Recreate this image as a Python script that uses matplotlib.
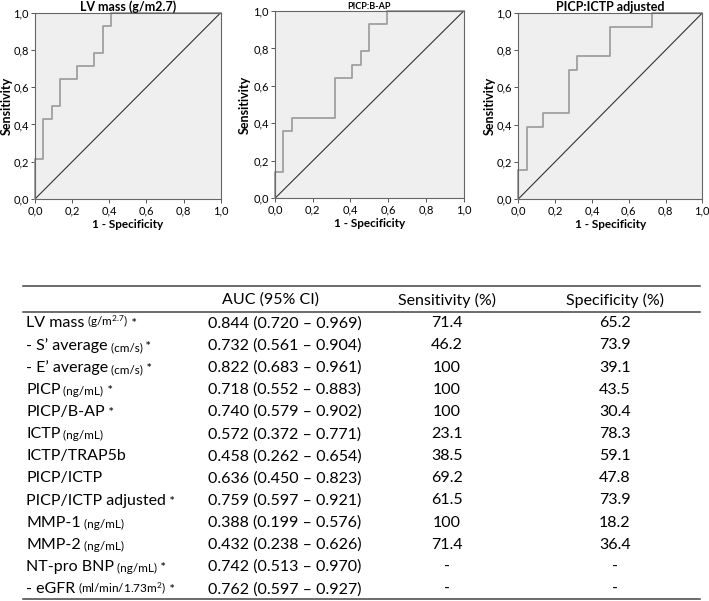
import matplotlib
matplotlib.use("Agg")
import matplotlib.pyplot as plt
from matplotlib.ticker import FuncFormatter

# ---------------------------------------------------------
# ROC curves (fpr / tpr step points)
# ---------------------------------------------------------
roc_titles = ["LV mass (g/m2.7)", "PICP:B-AP", "PICP:ICTP adjusted"]

lv_fpr = [0, 0, 0.045, 0.091, 0.136, 0.227, 0.318, 0.364, 0.409, 1.0]
lv_tpr = [0, 0.214, 0.429, 0.500, 0.643, 0.714, 0.786, 0.929, 1.0, 1.0]

bap_fpr = [0, 0, 0.045, 0.091, 0.318, 0.409, 0.455, 0.500, 0.591, 1.0]
bap_tpr = [0, 0.143, 0.357, 0.429, 0.643, 0.714, 0.786, 0.929, 1.0, 1.0]

ictp_fpr = [0, 0, 0.045, 0.136, 0.273, 0.318, 0.500, 0.727, 1.0]
ictp_tpr = [0, 0.154, 0.385, 0.462, 0.692, 0.769, 0.923, 1.0, 1.0]

roc_fpr = [lv_fpr, bap_fpr, ictp_fpr]
roc_tpr = [lv_tpr, bap_tpr, ictp_tpr]

# ---------------------------------------------------------
# Table
# ---------------------------------------------------------
col_headers = ["AUC (95% CI)", "Sensitivity (%)", "Specificity (%)"]
row_names = ["LV mass", "- S\u2019 average", "- E\u2019 average", "PICP", "PICP/B-AP",
             "ICTP", "ICTP/TRAP5b", "PICP/ICTP", "PICP/ICTP adjusted", "MMP-1",
             "MMP-2", "NT-pro BNP", "- eGFR"]
row_units = ["(g/m$^{2.7}$)", "(cm/s)", "(cm/s)", "(ng/mL)", "", "(ng/mL)", "", "",
             "", "(ng/mL)", "(ng/mL)", "(ng/mL)", "(ml/min/1.73m$^{2}$)"]
row_star = [True, True, True, True, True, False, False, False, True, False, False,
            True, True]
auc_ci = ["0.844 (0.720 \u2013 0.969)", "0.732 (0.561 \u2013 0.904)",
          "0.822 (0.683 \u2013 0.961)", "0.718 (0.552 \u2013 0.883)",
          "0.740 (0.579 \u2013 0.902)", "0.572 (0.372 \u2013 0.771)",
          "0.458 (0.262 \u2013 0.654)", "0.636 (0.450 \u2013 0.823)",
          "0.759 (0.597 \u2013 0.921)", "0.388 (0.199 \u2013 0.576)",
          "0.432 (0.238 \u2013 0.626)", "0.742 (0.513 \u2013 0.970)",
          "0.762 (0.597 \u2013 0.927)"]
sens = ["71.4", "46.2", "100", "100", "100", "23.1", "38.5", "69.2", "61.5",
        "100", "71.4", "-", "-"]
spec = ["65.2", "73.9", "39.1", "43.5", "30.4", "78.3", "59.1", "47.8", "73.9",
        "18.2", "36.4", "-", "-"]

plt.rcParams["font.family"] = ["Lato", "DejaVu Sans"]
plt.rcParams["mathtext.fontset"] = "custom"
plt.rcParams["mathtext.rm"] = "Lato"
plt.rcParams["mathtext.it"] = "Lato:italic"
plt.rcParams["mathtext.bf"] = "Lato:bold"

W, H = 709, 601
fig = plt.figure(figsize=(W / 100, H / 100), dpi=100)

# axes boxes in pixels: left, top, right, bottom
boxes = [(35, 12.7, 220.7, 199), (275, 11, 463.7, 198.3), (518.3, 13, 702.3, 199)]
title_sizes = [9, 6.5, 9]
ylabel_x = [-0.12, -0.13, -0.125]

comma = FuncFormatter(lambda v, p: f"{v:.1f}".replace(".", ","))

for i, (l, t, r, b) in enumerate(boxes):
    ax = fig.add_axes([l / W, (H - b) / H, (r - l) / W, (b - t) / H])
    ax.set_facecolor("#efefef")
    ax.plot([0, 1], [0, 1], color="#333333", lw=0.8)
    ax.step(roc_fpr[i], roc_tpr[i], where="post", color="#a0a0a0", lw=1.3,
            clip_on=False)
    ax.set_xlim(0, 1)
    ax.set_ylim(0, 1)
    ax.set_xticks([0, 0.2, 0.4, 0.6, 0.8, 1.0])
    ax.set_yticks([0, 0.2, 0.4, 0.6, 0.8, 1.0])
    ax.xaxis.set_major_formatter(comma)
    ax.yaxis.set_major_formatter(comma)
    ax.tick_params(labelsize=8, length=3, width=0.7, pad=1.5, color="#555555")
    for s in ax.spines.values():
        s.set_color("#666666")
        s.set_linewidth(0.8)
    ax.set_title(roc_titles[i], fontsize=title_sizes[i], fontweight="bold", pad=1)
    ax.set_xlabel("1 - Specificity", fontsize=8.5, fontweight="bold", labelpad=2)
    ax.set_ylabel("Sensitivity", fontsize=9, fontweight="bold")
    ax.yaxis.set_label_coords(ylabel_x[i], 0.5)

# ---------------------------------------------------------
# table drawn in pixel coordinates
# ---------------------------------------------------------
tab = fig.add_axes([0, 0, 1, 1])
tab.set_xlim(0, W)
tab.set_ylim(H, 0)
tab.axis("off")

for y in [286, 311.7, 599.3]:
    tab.plot([23, 700], [y, y], color="#444444", lw=1.1)

fs = 11.5
tab.text(271, 300, col_headers[0], fontsize=fs, ha="center", va="center")
tab.text(447, 300, col_headers[1], fontsize=fs, ha="center", va="center")
tab.text(615, 300, col_headers[2], fontsize=fs, ha="center", va="center")

for k in range(len(row_names)):
    y = 323.3 + k * 22.15
    t = tab.text(26, y, row_names[k], fontsize=fs, ha="left", va="center")
    last = t
    if row_units[k]:
        last = tab.annotate(" " + row_units[k], xy=(1, 0), xycoords=last,
                            fontsize=8.5, ha="left", va="bottom")
    if row_star[k]:
        tab.annotate(" *", xy=(1, 0), xycoords=last, fontsize=9.5,
                     ha="left", va="bottom")
    tab.text(208, y, auc_ci[k], fontsize=fs, ha="left", va="center")
    tab.text(447, y, sens[k], fontsize=fs, ha="center", va="center")
    tab.text(615, y, spec[k], fontsize=fs, ha="center", va="center")

fig.savefig("out.png", dpi=100)
